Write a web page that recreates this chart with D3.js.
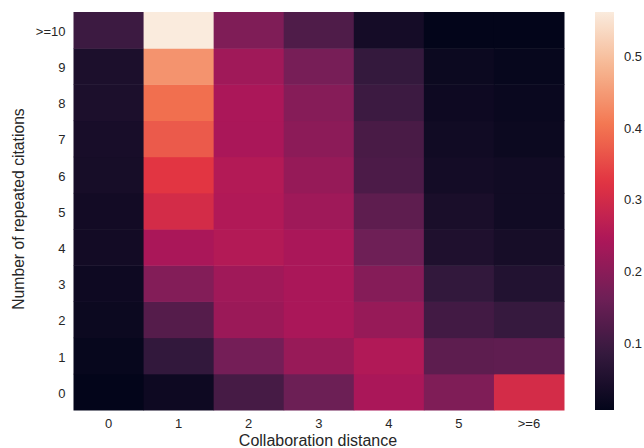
<!DOCTYPE html>
<html>
<head>
<meta charset="utf-8">
<script src="https://cdn.jsdelivr.net/npm/d3@7"></script>
<style>
  body { margin: 0; background: #fff; }
  text { font-family: "Liberation Sans", Arial, sans-serif; fill: #262626; }
</style>
</head>
<body>
<div id="chart"></div>
<script>
// categories
var distances = ["0", "1", "2", "3", "4", "5", ">=6"];
var repeats = ["0", "1", "2", "3", "4", "5", "6", "7", "8", "9", ">=10"];

// share of citations, one row per repeat count (bottom to top), one value per distance
var row0  = [0.004, 0.021, 0.106, 0.157, 0.238, 0.182, 0.301];
var row1  = [0.010, 0.079, 0.168, 0.215, 0.249, 0.137, 0.140];
var row2  = [0.018, 0.126, 0.219, 0.238, 0.214, 0.101, 0.085];
var row3  = [0.021, 0.187, 0.226, 0.238, 0.190, 0.079, 0.054];
var row4  = [0.029, 0.238, 0.251, 0.238, 0.160, 0.048, 0.035];
var row5  = [0.029, 0.301, 0.249, 0.224, 0.139, 0.040, 0.026];
var row6  = [0.035, 0.324, 0.251, 0.212, 0.115, 0.031, 0.026];
var row7  = [0.037, 0.368, 0.238, 0.199, 0.110, 0.026, 0.018];
var row8  = [0.043, 0.393, 0.240, 0.192, 0.093, 0.021, 0.015];
var row9  = [0.043, 0.438, 0.226, 0.172, 0.082, 0.018, 0.010];
var row10 = [0.093, 0.560, 0.182, 0.119, 0.032, 0.004, 0.004];
var rows = [row0, row1, row2, row3, row4, row5, row6, row7, row8, row9, row10];

var cbarTicks = [0.1, 0.2, 0.3, 0.4, 0.5];

// rocket colormap stops
var rocketStops = ["#03051a", "#35193e", "#701f57", "#ad1759", "#e13342", "#f37651", "#f6b48f", "#faebdd"];
var rocketPos = [0, 1/7, 2/7, 3/7, 4/7, 5/7, 6/7, 1];

var W = 644, H = 448;
var pLeft = 73.5, pRight = 564, pTop = 12, pBottom = 410;

var cells = [];
rows.forEach(function(r, i) {
  r.forEach(function(v, j) {
    cells.push({ rep: repeats[i], dist: distances[j], value: v });
  });
});

var vmin = d3.min(cells, function(d) { return d.value; });
var vmax = d3.max(cells, function(d) { return d.value; });

var rocket = d3.scaleLinear().domain(rocketPos).range(rocketStops).interpolate(d3.interpolateRgb).clamp(true);
var color = function(v) { return rocket((v - vmin) / (vmax - vmin)); };

var svg = d3.select("#chart").append("svg")
  .attr("width", W)
  .attr("height", H);

var x = d3.scaleBand().domain(distances).range([pLeft, pRight]);
var y = d3.scaleBand().domain(repeats).range([pBottom, pTop]);

svg.selectAll("rect.cell")
  .data(cells)
  .enter()
  .append("rect")
  .attr("class", "cell")
  .attr("x", function(d) { return x(d.dist); })
  .attr("y", function(d) { return y(d.rep); })
  .attr("width", x.bandwidth() + 0.5)
  .attr("height", y.bandwidth() + 0.5)
  .attr("fill", function(d) { return color(d.value); });

// axes, no tick lines
var xAxis = svg.append("g")
  .attr("transform", "translate(0," + pBottom + ")")
  .call(d3.axisBottom(x).tickSize(0).tickPadding(9));
var yAxis = svg.append("g")
  .attr("transform", "translate(" + pLeft + ",0)")
  .call(d3.axisLeft(y).tickSize(0).tickPadding(8));
[xAxis, yAxis].forEach(function(g) {
  g.select(".domain").remove();
  g.selectAll("text").attr("font-size", "13px").style("font-family", "Liberation Sans, Arial, sans-serif").attr("fill", "#262626");
});
yAxis.selectAll("text").attr("dy", "0.45em");

svg.append("text")
  .attr("x", 318)
  .attr("y", 446)
  .attr("text-anchor", "middle")
  .attr("font-size", "16px")
  .text("Collaboration distance");

svg.append("text")
  .attr("transform", "translate(24,209) rotate(-90)")
  .attr("text-anchor", "middle")
  .attr("font-size", "15.7px")
  .text("Number of repeated citations");

// colorbar
var cbX = 595, cbW = 19;
var cy = d3.scaleLinear().domain([vmin, vmax]).range([pBottom, pTop]);

var grad = svg.append("defs").append("linearGradient")
  .attr("id", "cbar")
  .attr("x1", "0").attr("y1", "1").attr("x2", "0").attr("y2", "0");
d3.range(0, 1.0001, 0.02).forEach(function(t) {
  grad.append("stop").attr("offset", t).attr("stop-color", rocket(t));
});

svg.append("rect")
  .attr("x", cbX)
  .attr("y", pTop)
  .attr("width", cbW)
  .attr("height", pBottom - pTop)
  .attr("fill", "url(#cbar)");

var cAxis = svg.append("g")
  .attr("transform", "translate(" + (cbX + cbW) + ",0)")
  .call(d3.axisRight(cy).tickValues(cbarTicks).tickFormat(d3.format(".1f")).tickSize(0).tickPadding(10));
cAxis.select(".domain").remove();
cAxis.selectAll("text").attr("font-size", "13px").attr("dy", "0.45em").style("font-family", "Liberation Sans, Arial, sans-serif").attr("fill", "#262626");
</script>
</body>
</html>
